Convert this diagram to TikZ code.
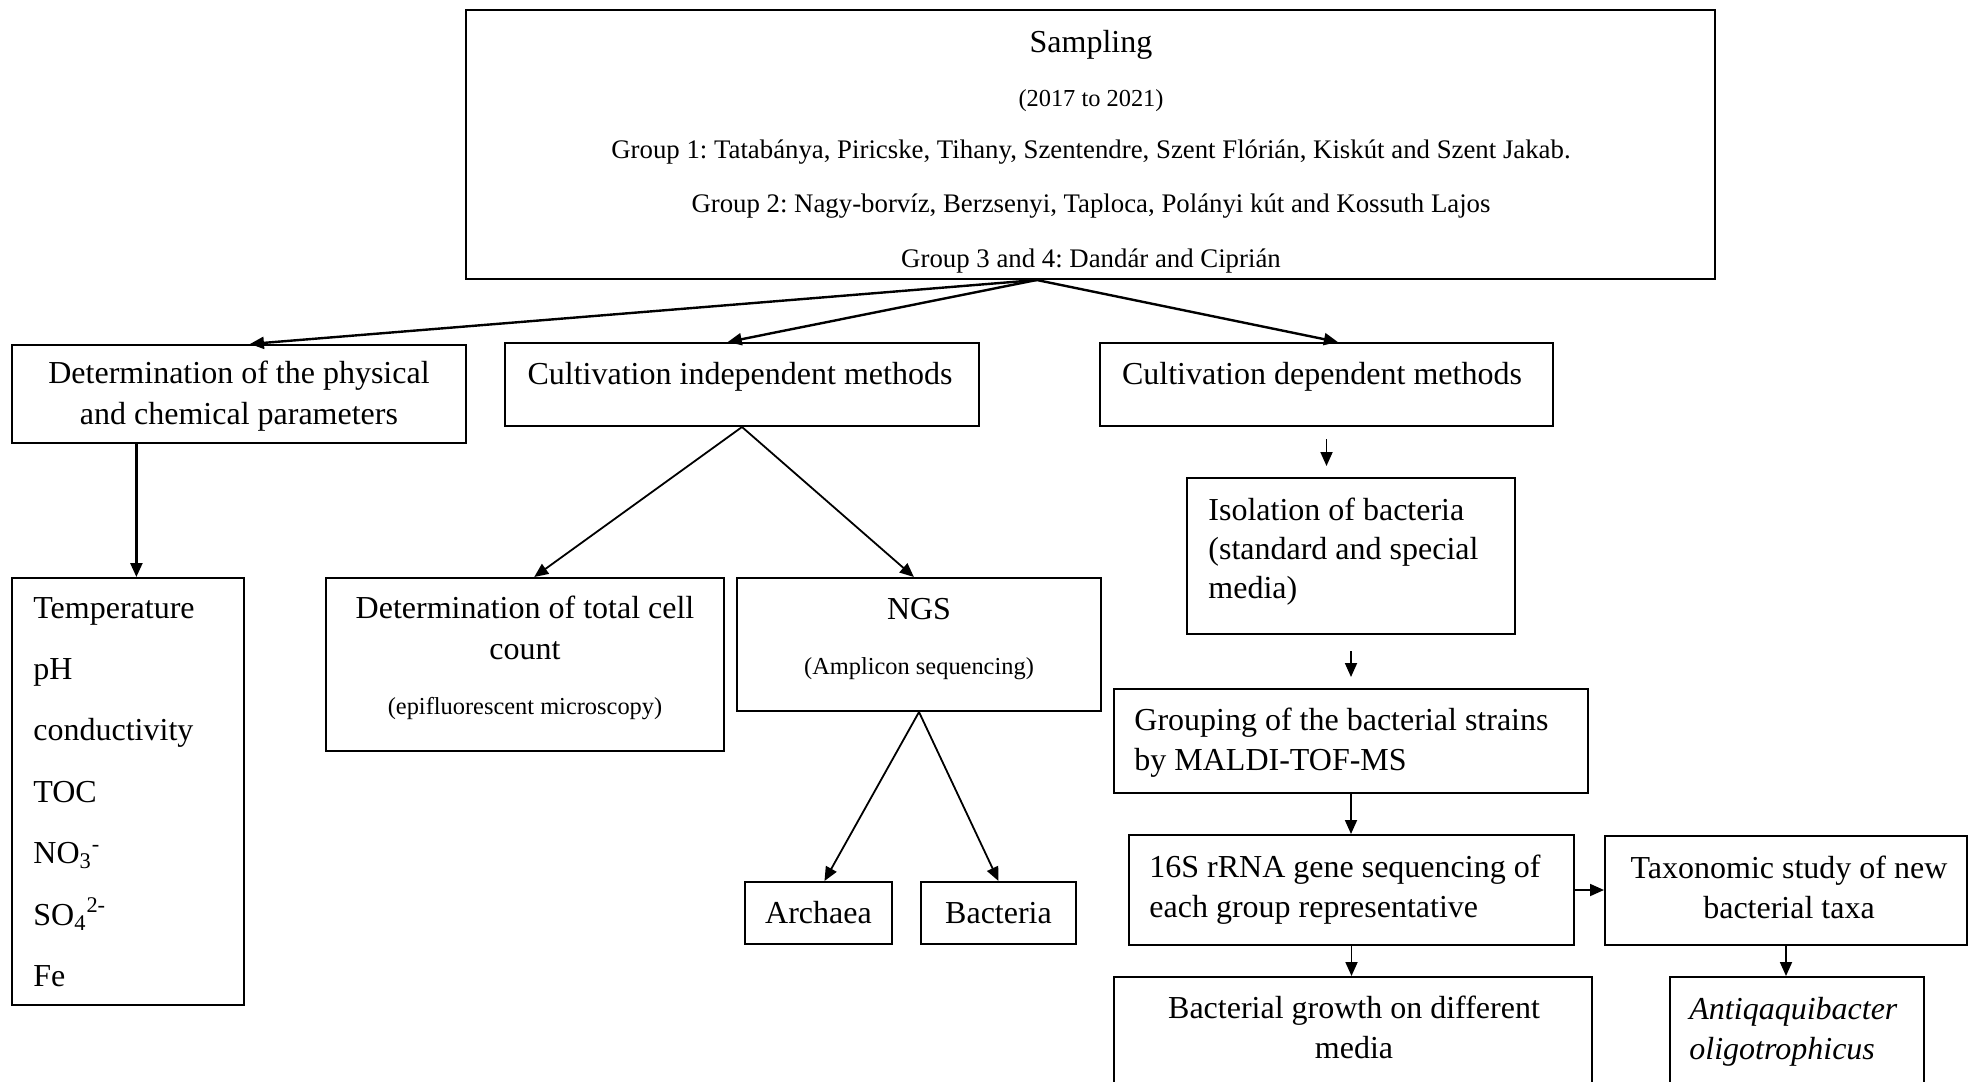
\documentclass[tikz,border=0pt]{standalone}
\usepackage{fontspec}
\setmainfont{Liberation Serif}
\usetikzlibrary{arrows.meta,fit,calc}
\frenchspacing
\begin{document}
\begin{tikzpicture}[x=0.5pt,y=-0.5pt,
  box/.style={draw, line width=1pt, inner sep=0pt},
  txt/.style={inner sep=0pt, font=\fontsize{16}{19.5}\selectfont},
  smalltxt/.style={inner sep=0pt, font=\fontsize{12.2}{14}\selectfont},
  grouptxt/.style={inner sep=0pt, font=\fontsize{13.4}{15}\selectfont},
  arrA/.style={-{Triangle[length=7pt,width=6pt]}, line width=1.2pt},
  arrB/.style={-{Triangle[length=7pt,width=6pt]}, line width=0.9pt}]
\useasboundingbox (0,0) rectangle (1969,1081);
\clip (0,0) rectangle (1969,1081);

% boxes
\node[box, fit={(466,10) (1715,279)}] (samp) {};
\node[box, fit={(12,345) (466,443)}] (phys) {};
\node[box, fit={(505,343) (979,426)}] (indep) {};
\node[box, fit={(1100,343) (1553,426)}] (dep) {};
\node[box, fit={(12,578) (244,1005)}] (temp) {};
\node[box, fit={(326,578) (724,751)}] (total) {};
\node[box, fit={(737,578) (1101,711)}] (ngs) {};
\node[box, fit={(745,882) (892,944)}] (arch) {};
\node[box, fit={(921,882) (1076,944)}] (bact) {};
\node[box, fit={(1187,478) (1515,634)}] (iso) {};
\node[box, fit={(1114,689) (1588,793)}] (grp) {};
\node[box, fit={(1129,835) (1574,945)}] (s16) {};
\node[box, fit={(1605,836) (1967,945)}] (tax) {};
\node[box, fit={(1114,977) (1592,1095)}] (growth) {};
\node[box, fit={(1670,977) (1924,1095)}] (anti) {};

% texts
\node[txt] (sampT) at (1091,44.5) {Sampling};
\node[smalltxt] (sampY) at (1091,100.5) {(2017 to 2021)};
\node[grouptxt] (sampG1) at (1091,152.5) {Group 1: Tatabánya, Piricske, Tihany, Szentendre, Szent Flórián, Kiskút and Szent Jakab.};
\node[grouptxt] (sampG2) at (1091,206.5) {Group 2: Nagy-borvíz, Berzsenyi, Taploca, Polányi kút and Kossuth Lajos};
\node[grouptxt] (sampG3) at (1091,261) {Group 3 and 4: Dandár and Ciprián};

\node[txt, align=center, font=\fontsize{16}{20.5}\selectfont] (physT) at (239,396) {Determination of the physical\\and chemical parameters};
\node[txt] (indepT) at (740,377) {Cultivation independent methods};
\node[txt] (depT) at (1322,377) {Cultivation dependent methods};

\node[txt, anchor=west, align=left, font=\fontsize{16}{30.7}\selectfont] (tempT) at (33,792) {Temperature\\pH\\conductivity\\TOC\\NO\textsubscript{3}\textsuperscript{-}\\SO\textsubscript{4}\textsuperscript{2-}\\Fe};

\node[txt, align=center, font=\fontsize{16}{20.5}\selectfont] (totalT) at (525,628) {Determination of total cell\\count};
\node[smalltxt] (totalS) at (525,709) {(epifluorescent microscopy)};
\node[txt] (ngsT) at (919,609) {NGS};
\node[smalltxt] (ngsS) at (919,669) {(Amplicon sequencing)};
\node[txt] (archT) at (arch.center) {Archaea};
\node[txt] (bactT) at (bact.center) {Bacteria};

\node[txt, anchor=west, align=left] (isoT) at (1208,552) {Isolation of bacteria\\(standard and special\\media)};
\node[txt, anchor=west, align=left, font=\fontsize{16}{20}\selectfont] (grpT) at (1134,743) {Grouping of the bacterial strains\\by MALDI-TOF-MS};
\node[txt, anchor=west, align=left, font=\fontsize{16}{20}\selectfont] (s16T) at (1149,889.5) {16S rRNA gene sequencing of\\each group representative};
\node[txt, align=center, font=\fontsize{16}{20}\selectfont] (taxT) at (1789,887) {Taxonomic study of new\\bacterial taxa};
\node[txt, align=center, font=\fontsize{16}{20}\selectfont] (growthT) at (1354,1027) {Bacterial growth on different\\media};
\node[txt, anchor=west, align=left, font=\fontsize{16}{20}\selectfont\itshape] (antiT) at (1689,1032) {Antiqaquibacter\\oligotrophicus};

% connectors
\coordinate (sampout) at ($(samp.south west)!0.457!(samp.south east)$);
\draw[arrA] (sampout) -- ($(phys.north west)!0.524!(phys.north east)$);
\draw[arrA] (sampout) -- ($(indep.north west)!0.47!(indep.north east)$);
\draw[arrA] (sampout) -- ($(dep.north west)!0.525!(dep.north east)$);

\coordinate (physout) at ($(phys.south west)!0.275!(phys.south east)$);
\draw[arrA] (physout) -- (physout |- temp.north);

\draw[arrB] (indep.south) -- ($(total.north west)!0.523!(total.north east)$);
\draw[arrB] (indep.south) -- ($(ngs.north west)!0.486!(ngs.north east)$);
\draw[arrB] (ngs.south) -- ($(arch.north west)!0.54!(arch.north east)$);
\draw[arrB] (ngs.south) -- ($(bact.north west)!0.5!(bact.north east)$);

\draw[arrB, shorten <=6pt, shorten >=5.5pt] (dep.south) -- (dep.south |- iso.north);
\draw[arrB, shorten <=8pt, shorten >=5.5pt] (iso.south) -- (iso.south |- grp.north);
\draw[arrB] (grp.south) -- (grp.south |- s16.north);
\draw[arrB] (s16.east) -- (s16.east -| tax.west);
\draw[arrB] (s16.south) -- (s16.south |- growth.north);
\draw[arrB] (tax.south) -- (tax.south |- anti.north);
\end{tikzpicture}
\end{document}
